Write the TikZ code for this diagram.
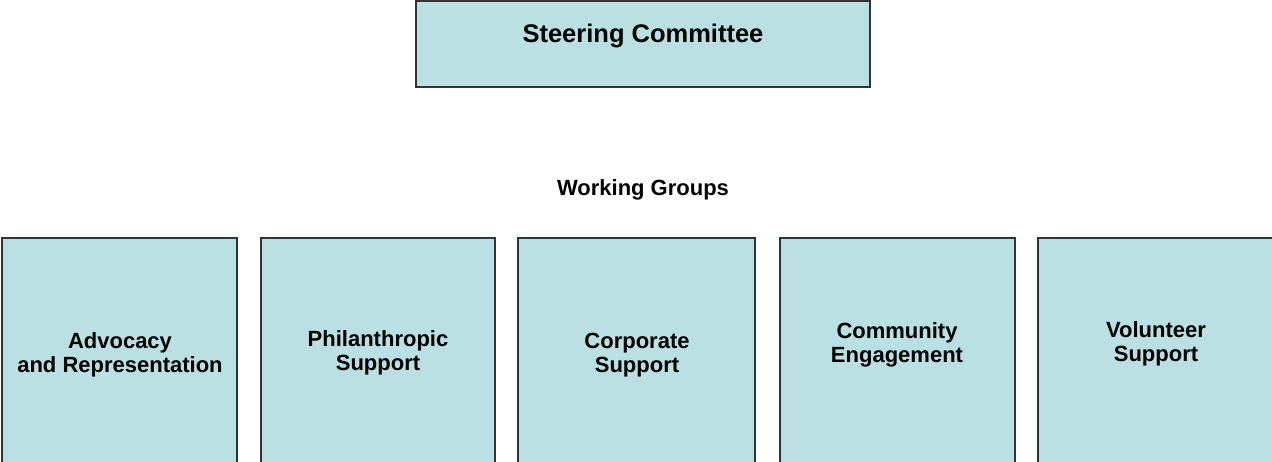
\documentclass[tikz,border=0pt]{standalone}
\usepackage{fontspec}
\setmainfont{Liberation Sans}
\definecolor{boxfill}{RGB}{186,224,227}
\definecolor{boxline}{RGB}{50,50,50}
\begin{document}
\begin{tikzpicture}[x=1pt,y=-1pt,
  panel/.style={draw=boxline,fill=boxfill,line width=1.2pt,inner sep=0pt},
  caption/.style={font=\fontsize{22}{24}\selectfont\bfseries,align=center,inner sep=0pt}]
\useasboundingbox (0,0) rectangle (1272,461);
% top box
\draw[panel] (416,1) rectangle (870,87);
\node[caption,font=\fontsize{25.5}{28}\selectfont\bfseries] (steer) at (643,36) {Steering Committee};
\node[caption] (wg) at (643,190) {Working Groups};
% working group boxes
\draw[panel] (2,238) rectangle (237,480);
\draw[panel] (261,238) rectangle (495,480);
\draw[panel] (518,238) rectangle (755,480);
\draw[panel] (780,238) rectangle (1015,480);
\draw[panel] (1038,238) rectangle (1290,480);
\node[caption] (g1) at (120,355) {Advocacy\\and Representation};
\node[caption] (g2) at (378,353) {Philanthropic\\Support};
\node[caption] (g3) at (637,355) {Corporate\\Support};
\node[caption] (g4) at (897,345) {Community\\Engagement};
\node[caption] (g5) at (1156,344) {Volunteer\\Support};
\end{tikzpicture}
\end{document}
